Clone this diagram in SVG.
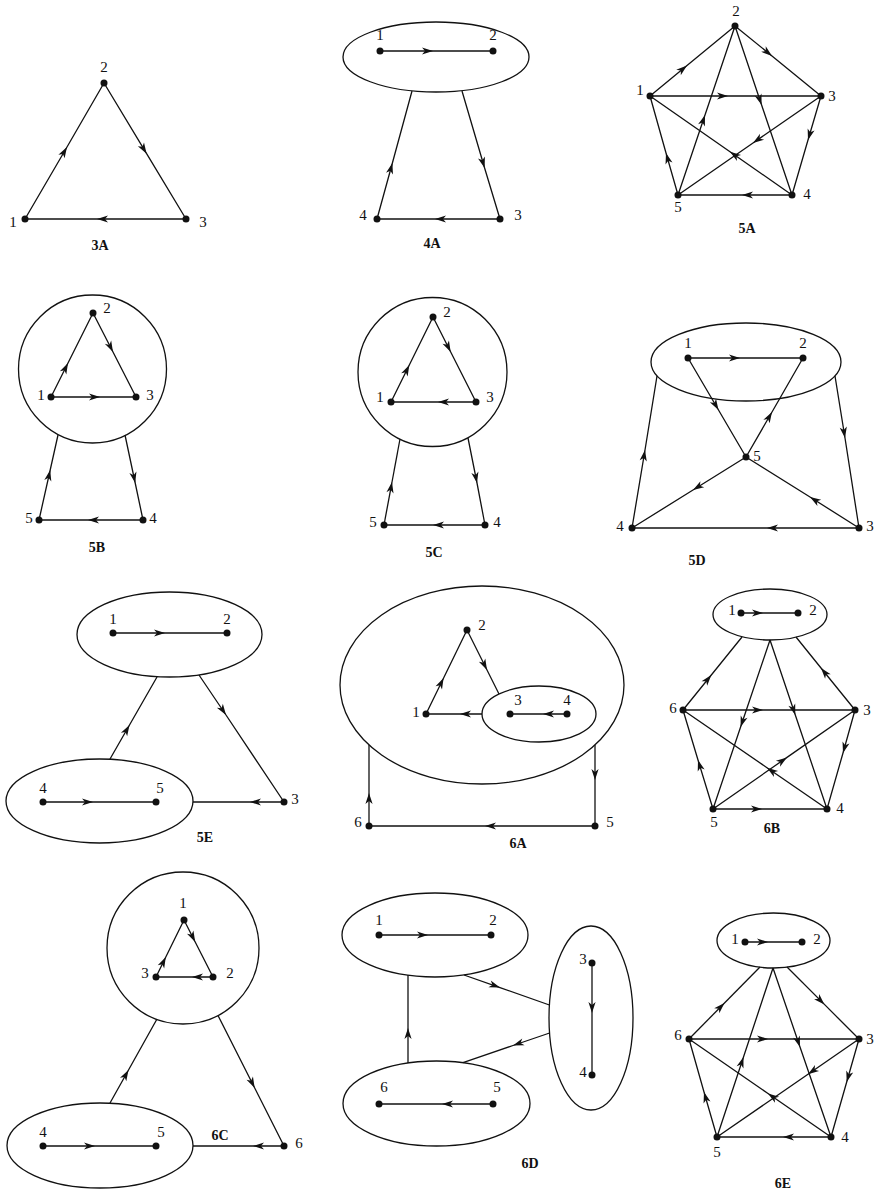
<svg xmlns="http://www.w3.org/2000/svg" width="879" height="1189" viewBox="0 0 879 1189">
<style>
.bg{fill:#fff}
.d{fill:#111}
.c{fill:none;stroke:#111;stroke-width:1.3}
.e path{fill:none;stroke:#111;stroke-width:1.3;marker-mid:url(#ar)}
text{font-family:"Liberation Serif","Times New Roman",serif;font-size:15px;fill:#111;text-anchor:middle}
.cap{font-size:14px;font-weight:bold}
</style>
<defs>
<marker id="ar" viewBox="-12 -5 13 10" refX="0" refY="0" markerWidth="13" markerHeight="10" markerUnits="userSpaceOnUse" orient="auto" overflow="visible">
<path d="M-11,-3.6 L0,0 L-11,3.6 L-8,0 Z" fill="#111"/>
</marker>
</defs>
<rect class="bg" x="0" y="0" width="879" height="1189"/>

<!-- 3A -->
<g id="fig3A">
<g class="e" id="e3A">
<path d="M25,219 L67,147 L104,83"/>
<path d="M104,83 L146.6,153.7 L186,219"/>
<path d="M186,219 L97,219 L25,219"/>
</g>
<g id="n3A-1"><circle class="d" cx="25" cy="219" r="3.5"/><text x="13" y="227">1</text></g>
<g id="n3A-2"><circle class="d" cx="104" cy="83" r="3.5"/><text x="104" y="72">2</text></g>
<g id="n3A-3"><circle class="d" cx="186" cy="219" r="3.5"/><text x="203" y="227">3</text></g>
<text class="cap" x="100" y="250">3A</text>
</g>

<!-- 4A -->
<g id="fig4A">
<g id="c4A-12"><ellipse class="c" cx="436" cy="57" rx="93" ry="35"/></g>
<g class="e" id="e4A">
<path d="M380,51 L433,51 L493,51"/>
<path d="M377,219 L392.4,163 L412,91"/>
<path d="M462,91 L484.6,168 L500,219"/>
<path d="M500,219 L435,219 L377,219"/>
</g>
<g id="n4A-1"><circle class="d" cx="380" cy="51" r="3.5"/><text x="380" y="40">1</text></g>
<g id="n4A-2"><circle class="d" cx="493" cy="51" r="3.5"/><text x="493" y="40">2</text></g>
<g id="n4A-3"><circle class="d" cx="500" cy="219" r="3.5"/><text x="518" y="220">3</text></g>
<g id="n4A-4"><circle class="d" cx="377" cy="219" r="3.5"/><text x="363" y="220">4</text></g>
<text class="cap" x="432" y="248">4A</text>
</g>

<!-- 5A -->
<g id="fig5A">
<g class="e" id="e5A">
<path d="M650,96 L687,65.5 L735,26"/>
<path d="M735,26 L772,56 L821,96"/>
<path d="M650,96 L728,96 L821,96"/>
<path d="M735,26 L761.6,105 L792,195"/>
<path d="M821,96 L808,140 L792,195"/>
<path d="M821,96 L753,143 L678,195"/>
<path d="M792,195 L730,151.7 L650,96"/>
<path d="M678,195 L705,115 L735,26"/>
<path d="M678,195 L666,153 L650,96"/>
<path d="M792,195 L742,195 L678,195"/>
</g>
<g id="n5A-1"><circle class="d" cx="650" cy="96" r="3.5"/><text x="640" y="95">1</text></g>
<g id="n5A-2"><circle class="d" cx="735" cy="26" r="3.5"/><text x="736" y="16">2</text></g>
<g id="n5A-3"><circle class="d" cx="821" cy="96" r="3.5"/><text x="832" y="101">3</text></g>
<g id="n5A-4"><circle class="d" cx="792" cy="195" r="3.5"/><text x="807" y="199">4</text></g>
<g id="n5A-5"><circle class="d" cx="678" cy="195" r="3.5"/><text x="678" y="212">5</text></g>
<text class="cap" x="747" y="233">5A</text>
</g>

<!-- 5B -->
<g id="fig5B">
<g id="c5B-123"><circle class="c" cx="92.5" cy="369" r="74"/></g>
<g class="e" id="e5B">
<path d="M51,397 L68,363 L93,313"/>
<path d="M93,313 L113,352 L136,397"/>
<path d="M51,397 L100,397 L136,397"/>
<path d="M39,520 L50.2,470 L58,435"/>
<path d="M125,435 L135.2,483 L143,520"/>
<path d="M143,520 L88,520 L39,520"/>
</g>
<g id="n5B-1"><circle class="d" cx="51" cy="397" r="3.5"/><text x="41" y="400">1</text></g>
<g id="n5B-2"><circle class="d" cx="93" cy="313" r="3.5"/><text x="107" y="313">2</text></g>
<g id="n5B-3"><circle class="d" cx="136" cy="397" r="3.5"/><text x="150" y="400">3</text></g>
<g id="n5B-4"><circle class="d" cx="143" cy="520" r="3.5"/><text x="153" y="523">4</text></g>
<g id="n5B-5"><circle class="d" cx="39" cy="520" r="3.5"/><text x="29" y="523">5</text></g>
<text class="cap" x="97" y="552">5B</text>
</g>

<!-- 5C -->
<g id="fig5C">
<g id="c5C-123"><circle class="c" cx="432.5" cy="372" r="74.5"/></g>
<g class="e" id="e5C">
<path d="M391,402 L409.3,365 L433,317"/>
<path d="M433,317 L450.7,352 L476,402"/>
<path d="M476,402 L438,402 L391,402"/>
<path d="M384,525 L392,482 L400,439"/>
<path d="M468,438 L477,483 L485,525"/>
<path d="M485,525 L433,525 L384,525"/>
</g>
<g id="n5C-1"><circle class="d" cx="391" cy="402" r="3.5"/><text x="380" y="402">1</text></g>
<g id="n5C-2"><circle class="d" cx="433" cy="317" r="3.5"/><text x="447" y="317">2</text></g>
<g id="n5C-3"><circle class="d" cx="476" cy="402" r="3.5"/><text x="490" y="402">3</text></g>
<g id="n5C-4"><circle class="d" cx="485" cy="525" r="3.5"/><text x="497" y="527">4</text></g>
<g id="n5C-5"><circle class="d" cx="384" cy="525" r="3.5"/><text x="373" y="527">5</text></g>
<text class="cap" x="434" y="557">5C</text>
</g>

<!-- 5D -->
<g id="fig5D">
<g id="c5D-12"><ellipse class="c" cx="746" cy="362" rx="95" ry="39"/></g>
<g class="e" id="e5D">
<path d="M688,358 L740,358 L803,358"/>
<path d="M688,358 L718.5,410 L746,457"/>
<path d="M746,457 L772,412 L803,358"/>
<path d="M746,457 L693,490 L632,528"/>
<path d="M859,528 L810,497 L746,457"/>
<path d="M859,528 L767,528 L632,528"/>
<path d="M632,528 L645,450 L657,376"/>
<path d="M835,376 L845,438 L859,528"/>
</g>
<g id="n5D-1"><circle class="d" cx="688" cy="358" r="3.5"/><text x="688" y="348">1</text></g>
<g id="n5D-2"><circle class="d" cx="803" cy="358" r="3.5"/><text x="803" y="348">2</text></g>
<g id="n5D-3"><circle class="d" cx="859" cy="528" r="3.5"/><text x="870" y="531">3</text></g>
<g id="n5D-4"><circle class="d" cx="632" cy="528" r="3.5"/><text x="620" y="531">4</text></g>
<g id="n5D-5"><circle class="d" cx="746" cy="457" r="3.5"/><text x="757" y="461">5</text></g>
<text class="cap" x="697" y="565">5D</text>
</g>

<!-- 5E -->
<g id="fig5E">
<g id="c5E-12"><ellipse class="c" cx="169.5" cy="634.5" rx="92.5" ry="42.5"/></g>
<g id="c5E-45"><ellipse class="c" cx="99.5" cy="801" rx="93.5" ry="42"/></g>
<g class="e" id="e5E">
<path d="M113,633 L165,633 L227,633"/>
<path d="M43,802 L93,802 L156,802"/>
<path d="M110,759 L129.5,725 L157,677"/>
<path d="M199,675 L226,715 L284,802"/>
<path d="M284,802 L250,802 L193,802"/>
</g>
<g id="n5E-1"><circle class="d" cx="113" cy="633" r="3.5"/><text x="113" y="624">1</text></g>
<g id="n5E-2"><circle class="d" cx="227" cy="633" r="3.5"/><text x="227" y="624">2</text></g>
<g id="n5E-3"><circle class="d" cx="284" cy="802" r="3.5"/><text x="295" y="804">3</text></g>
<g id="n5E-4"><circle class="d" cx="43" cy="802" r="3.5"/><text x="43" y="793">4</text></g>
<g id="n5E-5"><circle class="d" cx="156" cy="802" r="3.5"/><text x="160" y="793">5</text></g>
<text class="cap" x="205" y="842">5E</text>
</g>

<!-- 6A -->
<g id="fig6A">
<g id="c6A-1234"><ellipse class="c" cx="482" cy="685" rx="142" ry="99"/></g>
<g id="c6A-34"><ellipse class="c" cx="539" cy="714" rx="57" ry="28"/></g>
<g class="e" id="e6A">
<path d="M426,714 L443.6,678 L467,630"/>
<path d="M467,630 L487,670 L499,694"/>
<path d="M482,714 L460,714 L426,714"/>
<path d="M567,714 L543,714 L510,714"/>
<path d="M595,745 L595,780 L595,826"/>
<path d="M595,826 L485,826 L369,826"/>
<path d="M369,826 L369,793 L369,745"/>
</g>
<g id="n6A-1"><circle class="d" cx="426" cy="714" r="3.5"/><text x="416" y="717">1</text></g>
<g id="n6A-2"><circle class="d" cx="467" cy="630" r="3.5"/><text x="482" y="630">2</text></g>
<g id="n6A-3"><circle class="d" cx="510" cy="714" r="3.5"/><text x="518" y="705">3</text></g>
<g id="n6A-4"><circle class="d" cx="567" cy="714" r="3.5"/><text x="567" y="705">4</text></g>
<g id="n6A-5"><circle class="d" cx="595" cy="826" r="3.5"/><text x="610" y="827">5</text></g>
<g id="n6A-6"><circle class="d" cx="369" cy="826" r="3.5"/><text x="358" y="827">6</text></g>
<text class="cap" x="518" y="848">6A</text>
</g>

<!-- 6B -->
<g id="fig6B">
<g id="c6B-12"><ellipse class="c" cx="770" cy="614.5" rx="57" ry="25.5"/></g>
<g class="e" id="e6B">
<path d="M741,613 L763,613 L798,613"/>
<path d="M683,710 L711.3,675 L742,637"/>
<path d="M855,710 L821,668 L796,637"/>
<path d="M770,640 L740.6,727 L713,809"/>
<path d="M770,640 L795.3,715 L827,809"/>
<path d="M683,710 L763,710 L855,710"/>
<path d="M855,710 L843,753 L827,809"/>
<path d="M713,809 L787,757.4 L855,710"/>
<path d="M827,809 L767,767.7 L683,710"/>
<path d="M713,809 L698,760 L683,710"/>
<path d="M713,809 L762,809 L827,809"/>
</g>
<g id="n6B-1"><circle class="d" cx="741" cy="613" r="3.5"/><text x="732" y="615">1</text></g>
<g id="n6B-2"><circle class="d" cx="798" cy="613" r="3.5"/><text x="813" y="615">2</text></g>
<g id="n6B-3"><circle class="d" cx="855" cy="710" r="3.5"/><text x="867" y="715">3</text></g>
<g id="n6B-4"><circle class="d" cx="827" cy="809" r="3.5"/><text x="840" y="813">4</text></g>
<g id="n6B-5"><circle class="d" cx="713" cy="809" r="3.5"/><text x="714" y="827">5</text></g>
<g id="n6B-6"><circle class="d" cx="683" cy="710" r="3.5"/><text x="673" y="713">6</text></g>
<text class="cap" x="772" y="833">6B</text>
</g>

<!-- 6C -->
<g id="fig6C">
<g id="c6C-123"><circle class="c" cx="183" cy="948" r="76"/></g>
<g id="c6C-45"><ellipse class="c" cx="100" cy="1145.5" rx="93" ry="42.5"/></g>
<g class="e" id="e6C">
<path d="M184,920 L195.2,942 L213,977"/>
<path d="M156,977 L165.8,957 L184,920"/>
<path d="M213,977 L192,977 L156,977"/>
<path d="M43,1146 L95,1146 L156,1146"/>
<path d="M110,1103 L128.5,1070 L157,1019"/>
<path d="M218,1015.5 L254.7,1088 L284,1146"/>
<path d="M284,1146 L253,1146 L193,1146"/>
</g>
<g id="n6C-1"><circle class="d" cx="184" cy="920" r="3.5"/><text x="183" y="908">1</text></g>
<g id="n6C-2"><circle class="d" cx="213" cy="977" r="3.5"/><text x="230" y="978">2</text></g>
<g id="n6C-3"><circle class="d" cx="156" cy="977" r="3.5"/><text x="145" y="978">3</text></g>
<g id="n6C-4"><circle class="d" cx="43" cy="1146" r="3.5"/><text x="43" y="1137">4</text></g>
<g id="n6C-5"><circle class="d" cx="156" cy="1146" r="3.5"/><text x="161" y="1137">5</text></g>
<g id="n6C-6"><circle class="d" cx="284" cy="1146" r="3.5"/><text x="299" y="1148">6</text></g>
<text class="cap" x="220" y="1140">6C</text>
</g>

<!-- 6D -->
<g id="fig6D">
<g id="c6D-12"><ellipse class="c" cx="435" cy="935" rx="93" ry="42"/></g>
<g id="c6D-34"><ellipse class="c" cx="591" cy="1018" rx="42" ry="92"/></g>
<g id="c6D-56"><ellipse class="c" cx="436.5" cy="1103.5" rx="93.5" ry="42.5"/></g>
<g class="e" id="e6D">
<path d="M379,935 L428,935 L491,935"/>
<path d="M592,963 L592,1013 L592,1075"/>
<path d="M493,1104 L442,1104 L379,1104"/>
<path d="M464,975 L500,987.6 L549.4,1005"/>
<path d="M549.6,1033 L513,1045.5 L463,1062.7"/>
<path d="M408,1063 L408,1028 L408,975"/>
</g>
<g id="n6D-1"><circle class="d" cx="379" cy="935" r="3.5"/><text x="379" y="925">1</text></g>
<g id="n6D-2"><circle class="d" cx="491" cy="935" r="3.5"/><text x="493" y="925">2</text></g>
<g id="n6D-3"><circle class="d" cx="592" cy="963" r="3.5"/><text x="583" y="964">3</text></g>
<g id="n6D-4"><circle class="d" cx="592" cy="1075" r="3.5"/><text x="583" y="1077">4</text></g>
<g id="n6D-5"><circle class="d" cx="493" cy="1104" r="3.5"/><text x="497" y="1092">5</text></g>
<g id="n6D-6"><circle class="d" cx="379" cy="1104" r="3.5"/><text x="384" y="1092">6</text></g>
<text class="cap" x="530" y="1168">6D</text>
</g>

<!-- 6E -->
<g id="fig6E">
<g id="c6E-12"><ellipse class="c" cx="773.5" cy="940.5" rx="56.5" ry="27.5"/></g>
<g class="e" id="e6E">
<path d="M745,942 L768,942 L802,942"/>
<path d="M689,1039 L724.5,1003 L760,967"/>
<path d="M787,967 L824.4,1004.4 L859,1039"/>
<path d="M773,968 L800,1047 L831,1137"/>
<path d="M717,1137 L743.5,1057 L773,968"/>
<path d="M689,1039 L768,1039 L859,1039"/>
<path d="M859,1039 L846.7,1082 L831,1137"/>
<path d="M859,1039 L808,1074.3 L717,1137"/>
<path d="M831,1137 L768,1093.5 L689,1039"/>
<path d="M717,1137 L704,1092 L689,1039"/>
<path d="M831,1137 L783,1137 L717,1137"/>
</g>
<g id="n6E-1"><circle class="d" cx="745" cy="942" r="3.5"/><text x="735" y="944">1</text></g>
<g id="n6E-2"><circle class="d" cx="802" cy="942" r="3.5"/><text x="817" y="944">2</text></g>
<g id="n6E-3"><circle class="d" cx="859" cy="1039" r="3.5"/><text x="870" y="1044">3</text></g>
<g id="n6E-4"><circle class="d" cx="831" cy="1137" r="3.5"/><text x="845" y="1142">4</text></g>
<g id="n6E-5"><circle class="d" cx="717" cy="1137" r="3.5"/><text x="717" y="1157">5</text></g>
<g id="n6E-6"><circle class="d" cx="689" cy="1039" r="3.5"/><text x="678" y="1040">6</text></g>
<text class="cap" x="783" y="1188">6E</text>
</g>
</svg>
